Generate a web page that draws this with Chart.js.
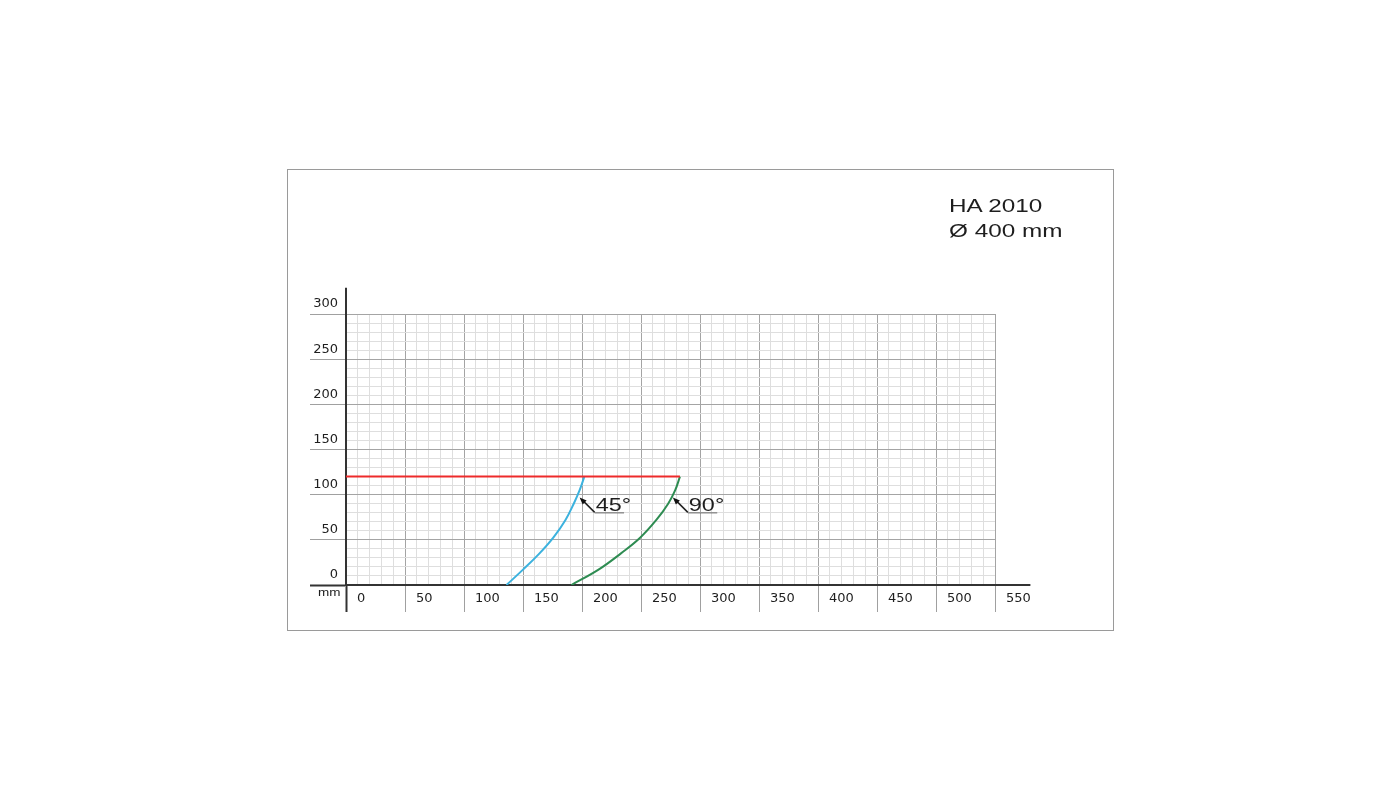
<!DOCTYPE html>
<html>
<head>
<meta charset="utf-8">
<script src="https://cdn.jsdelivr.net/npm/chart.js@4.4.1/dist/chart.umd.min.js"></script>
<style>
  body { margin: 0; background: #fff; width: 1400px; height: 800px; position: relative; overflow: hidden; font-family: "Liberation Sans", Arial, sans-serif; }
  #frame { position: absolute; left: 287px; top: 169px; width: 827px; height: 462px; border: 1px solid #9a9a9a; box-sizing: border-box; }
  #chartLine { position: absolute; left: 288px; top: 170px; }
  .txt { position: absolute; color: #1e1e1e; transform: scaleX(1.35); transform-origin: 0 0; white-space: nowrap; }
</style>
</head>
<body>
<div id="frame"></div>
<canvas id="chartLine" width="825" height="460"></canvas>
<div class="txt" style="left:949px; top:197px; font-size:18px; line-height:18px;">HA 2010</div>
<div class="txt" style="left:949px; top:222px; font-size:18px; line-height:18px;">Ø 400 mm</div>
<div class="txt" style="left:318px; top:588px; font-size:10px; line-height:10px;">mm</div>
<script>
  // curves (mm)
  const limitX = [0, 283];
  const limitY = [120, 120];
  const angle45X = [136, 150, 164, 176, 186, 193, 198, 202];
  const angle45Y = [0, 17, 35, 53, 72, 90, 105, 120];
  const angle90X = [191, 214, 233, 249, 263, 273, 279, 283];
  const angle90Y = [0, 17, 35, 52, 72, 90, 105, 120];

  const xTickLabels = [0, 50, 100, 150, 200, 250, 300, 350, 400, 450, 500, 550];
  const yTickLabels = [0, 50, 100, 150, 200, 250, 300];

  const curveLabels = ["45°", "90°"];
  const labelAnchorX = [198, 277];
  const labelAnchorY = [97, 97];

  const red = "#ee2b2b";
  const blue = "#3cb2de";
  const green = "#2e8c52";

  const pts = (xs, ys) => xs.map((x, i) => ({ x: x, y: ys[i] }));

  const gridColor = (ctx) => (ctx.tick.value % 50 === 0 ? "#a4a4a4" : "#dedede");
  const tickColor = (ctx) =>
    ctx.tick.value === 0 ? "#333" : ctx.tick.value % 50 === 0 ? "#a0a0a0" : "rgba(0,0,0,0)";
  const tickWidth = (ctx) => (ctx.tick.value === 0 ? 2 : 1);

  const extras = {
    id: "extras",
    afterDraw(chart) {
      const { ctx, scales: { x, y } } = chart;
      ctx.save();
      // axis lines run a little past the grid
      ctx.strokeStyle = "#333";
      ctx.lineWidth = 2;
      ctx.beginPath();
      ctx.moveTo(x.getPixelForValue(0), y.getPixelForValue(300));
      ctx.lineTo(x.getPixelForValue(0), y.getPixelForValue(329));
      ctx.moveTo(x.getPixelForValue(550), y.getPixelForValue(0));
      ctx.lineTo(x.getPixelForValue(580), y.getPixelForValue(0));
      ctx.stroke();

      // angle labels with leader lines
      curveLabels.forEach((txt, i) => {
        const px = x.getPixelForValue(labelAnchorX[i]);
        const py = y.getPixelForValue(labelAnchorY[i]);
        const ex = px + 15, ey = py + 15;
        ctx.fillStyle = "#1e1e1e";
        ctx.font = "18px 'Liberation Sans', Arial, sans-serif";
        ctx.save();
        ctx.translate(ex + 1, ey - 1);
        ctx.scale(1.3, 1);
        ctx.textAlign = "left";
        ctx.textBaseline = "alphabetic";
        ctx.fillText(txt, 0, 0);
        const w = ctx.measureText(txt).width * 1.3;
        ctx.restore();

        ctx.strokeStyle = "#222";
        ctx.lineWidth = 1.5;
        ctx.beginPath();
        ctx.moveTo(px + 3, py + 3);
        ctx.lineTo(ex, ey);
        ctx.stroke();
        ctx.strokeStyle = "#666";
        ctx.lineWidth = 1;
        ctx.beginPath();
        ctx.moveTo(ex, ey + 0.5);
        ctx.lineTo(ex + w - 6, ey + 0.5);
        ctx.stroke();
        // arrow head
        ctx.fillStyle = "#111";
        ctx.beginPath();
        ctx.moveTo(px, py);
        ctx.lineTo(px + 7, py + 3);
        ctx.lineTo(px + 3, py + 7);
        ctx.closePath();
        ctx.fill();
      });
      ctx.restore();
    },
  };

  const data = {
    datasets: [
      { label: "limit", data: pts(limitX, limitY), borderColor: red, borderWidth: 2 },
      { label: "45°", data: pts(angle45X, angle45Y), borderColor: blue, borderWidth: 2, tension: 0.4 },
      { label: "90°", data: pts(angle90X, angle90Y), borderColor: green, borderWidth: 2, tension: 0.4 },
    ],
  };

  const config = {
    type: "scatter",
    data,
    plugins: [extras],
    options: {
      responsive: false,
      animation: false,
      showLine: true,
      elements: { point: { radius: 0 } },
      layout: { padding: { top: 144, right: 118, left: 0, bottom: 0 } },
      plugins: { legend: { display: false }, tooltip: { enabled: false } },
      scales: {
        x: {
          type: "linear",
          position: "bottom",
          min: 0,
          max: 550,
          afterFit: (s) => { s.height = 45; },
          border: { color: "#333", width: 2 },
          grid: { color: gridColor, tickColor: tickColor, tickWidth: tickWidth, tickLength: 27 },
          ticks: {
            stepSize: 10,
            autoSkip: false,
            maxRotation: 0,
            minRotation: 0,
            align: "start",
            labelOffset: 11,
            padding: -21,
            color: "#1e1e1e",
            font: { family: "'DejaVu Sans'", size: 13 },
            callback: (v) => (xTickLabels.includes(v) ? String(v) : ""),
          },
        },
        y: {
          type: "linear",
          position: "left",
          min: 0,
          max: 300,
          afterFit: (s) => { s.width = 58; },
          border: { color: "#333", width: 2 },
          grid: { color: gridColor, tickColor: tickColor, tickWidth: tickWidth, tickLength: 36 },
          ticks: {
            stepSize: 10,
            autoSkip: false,
            labelOffset: -10,
            padding: -28,
            color: "#1e1e1e",
            font: { family: "'DejaVu Sans'", size: 13 },
            callback: (v) => (yTickLabels.includes(v) ? String(v) : ""),
          },
        },
      },
    },
  };

  var chartLine = new Chart(document.getElementById("chartLine"), config);
</script>
</body>
</html>
